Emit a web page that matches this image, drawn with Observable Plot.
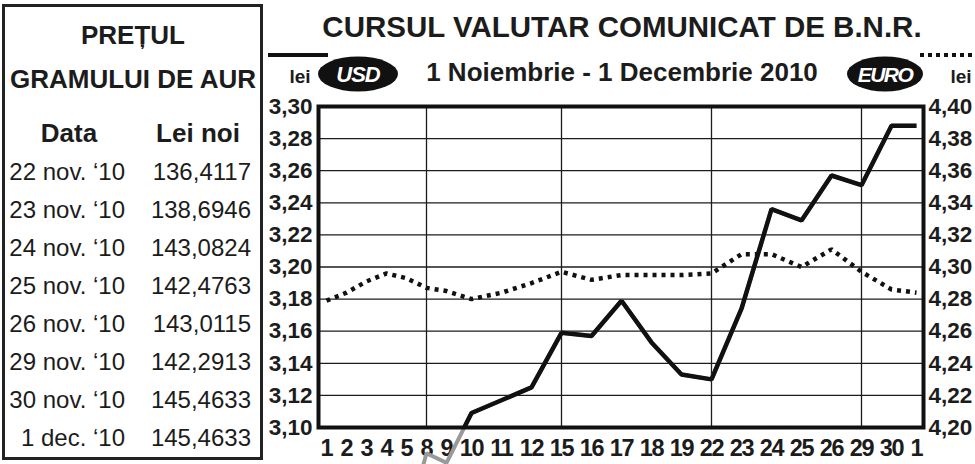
<!DOCTYPE html>
<html>
<head>
<meta charset="utf-8">
<script src="https://cdn.jsdelivr.net/npm/d3@7"></script>
<script src="https://cdn.jsdelivr.net/npm/@observablehq/plot@0.6"></script>
<style>
  html, body { margin: 0; padding: 0; background: white; }
  #chart { width: 975px; height: 464px; }
</style>
</head>
<body>
<div id="chart"></div>
<script>
// ---- data ----
const days = ["1","2","3","4","5","8","9","10","11","12","15","16","17","18","19","22","23","24","25","26","29","30","1"];
// USD (left axis, lei)
const usd = [3.060, 3.052, 3.041, 3.010, 3.038, 3.084, 3.078, 3.109, 3.117, 3.125, 3.159, 3.157, 3.179, 3.153, 3.133, 3.130, 3.174, 3.236, 3.229, 3.257, 3.251, 3.288, 3.288];
// EURO (right axis, lei)
const eur = [4.279, 4.284, 4.291, 4.296, 4.293, 4.287, 4.285, 4.280, 4.284, 4.290, 4.297, 4.292, 4.295, 4.295, 4.295, 4.296, 4.308, 4.308, 4.300, 4.311, 4.297, 4.286, 4.284];
const mondays = ["8","15","22","29"];
const usdTicks = [3.10, 3.12, 3.14, 3.16, 3.18, 3.20, 3.22, 3.24, 3.26, 3.28, 3.30];
const eurTicks = [4.20, 4.22, 4.24, 4.26, 4.28, 4.30, 4.32, 4.34, 4.36, 4.38, 4.40];
const goldDates = ["22 nov. \u201810","23 nov. \u201810","24 nov. \u201810","25 nov. \u201810","26 nov. \u201810","29 nov. \u201810","30 nov. \u201810","1 dec. \u201810"];
const goldPrices = ["136,4117","138,6946","143,0824","142,4763","143,0115","142,2913","145,4633","145,4633"];

// ---- derived ----
const usdDomain = [usdTicks[0], usdTicks[usdTicks.length - 1]];
const eurDomain = [eurTicks[0], eurTicks[eurTicks.length - 1]];
const k = (usdDomain[1] - usdDomain[0]) / (eurDomain[1] - eurDomain[0]);
const eurToUsd = v => usdDomain[0] + (v - eurDomain[0]) * k;
const usdToEur = v => eurDomain[0] + (v - usdDomain[0]) / k;
const fmt = v => v.toFixed(2).replace(".", ",");

// label slots: each label occupies (characters + 1) units, as printed
let acc = 0;
const xPos = days.map(d => { const w = d.length + 1; const c = acc + w / 2; acc += w; return c; });
const labelAt = new Map(xPos.map((p, i) => [p, days[i]]));
const mondayPos = xPos.filter((p, i) => i > 0 && i < days.length - 1 && mondays.includes(days[i]));
const data = days.map((d, i) => ({pos: xPos[i], day: d, usd: usd[i], eur: eur[i]}));

const ink = "#1c1c1c";
const font = "'Liberation Sans', Arial, Helvetica, sans-serif";

const plot = Plot.plot({
  width: 975,
  height: 464,
  marginLeft: 318,
  marginRight: 52,
  marginTop: 106,
  marginBottom: 37,
  style: {fontFamily: font, color: ink, background: "white", overflow: "hidden"},
  x: {domain: [0.2, 60.7], axis: null},
  y: {domain: usdDomain, axis: null},
  marks: [
    Plot.gridY({ticks: usdTicks, stroke: ink, strokeOpacity: 1, strokeWidth: 1.3}),
    Plot.ruleX(mondayPos, {stroke: ink, strokeWidth: 1.3}),
    Plot.axisY({ticks: usdTicks, anchor: "left", label: null, tickSize: 0, tickPadding: 6, tickFormat: fmt, fontSize: 22.5, fontWeight: "bold"}),
    Plot.axisY({ticks: usdTicks, anchor: "right", label: null, tickSize: 0, tickPadding: 5, tickFormat: d => fmt(usdToEur(d)), fontSize: 22.5, fontWeight: "bold"}),
    Plot.axisX({ticks: xPos, anchor: "bottom", label: null, tickSize: 0, tickPadding: 12, tickFormat: d => labelAt.get(d), fontSize: 23.5, fontWeight: "bold"}),
    Plot.lineY(data, {x: "pos", y: "usd", stroke: "#9a9a9a", strokeWidth: 4, strokeLinecap: "butt", strokeLinejoin: "miter"}),
    Plot.lineY(data, {x: "pos", y: "usd", stroke: "#111", strokeWidth: 4.5, strokeLinecap: "butt", strokeLinejoin: "miter", clip: true}),
    Plot.lineY(data, {x: "pos", y: d => eurToUsd(d.eur), stroke: "#111", strokeWidth: 4.5, strokeDasharray: "4,5", strokeLinecap: "butt", strokeLinejoin: "miter", clip: true}),
    Plot.frame({stroke: "#111", strokeWidth: 4})
  ]
});
document.getElementById("chart").append(plot);

// ---- header, legend and gold price table ----
const svg = d3.select(plot);
svg.selectAll("g[aria-label='x-axis tick label'] text").attr("letter-spacing", "-1.2");
const g = svg.append("g").attr("font-family", font).attr("fill", ink);

g.append("text").attr("x", 622).attr("y", 37).attr("text-anchor", "middle")
  .attr("font-size", 29.5).attr("font-weight", "bold").text("CURSUL VALUTAR COMUNICAT DE B.N.R.");
g.append("text").attr("x", 622).attr("y", 81).attr("text-anchor", "middle")
  .attr("font-size", 26).attr("font-weight", "bold").text("1 Noiembrie - 1 Decembrie 2010");

// USD legend
g.append("line").attr("x1", 268).attr("x2", 328).attr("y1", 55).attr("y2", 55).attr("stroke", "#111").attr("stroke-width", 4);
g.append("text").attr("x", 300).attr("y", 83).attr("text-anchor", "middle").attr("font-size", 19).attr("font-weight", "bold").text("lei");
g.append("ellipse").attr("cx", 358).attr("cy", 74).attr("rx", 40).attr("ry", 17.5).attr("fill", "#111");
g.append("text").attr("x", 358).attr("y", 82).attr("text-anchor", "middle").attr("font-size", 22).attr("font-weight", "bold")
  .attr("font-style", "italic").attr("fill", "white").attr("letter-spacing", "-1").text("USD");

// EURO legend
g.append("line").attr("x1", 920).attr("x2", 975).attr("y1", 55).attr("y2", 55).attr("stroke", "#111").attr("stroke-width", 4).attr("stroke-dasharray", "4,4");
g.append("text").attr("x", 961).attr("y", 83).attr("text-anchor", "middle").attr("font-size", 19).attr("font-weight", "bold").text("lei");
g.append("ellipse").attr("cx", 885).attr("cy", 74).attr("rx", 38).attr("ry", 17.5).attr("fill", "#111");
g.append("text").attr("x", 885).attr("y", 82).attr("text-anchor", "middle").attr("font-size", 21).attr("font-weight", "bold")
  .attr("font-style", "italic").attr("fill", "white").attr("letter-spacing", "-1.5").text("EURO");

// Gold table box
g.append("rect").attr("x", 3.5).attr("y", 5.5).attr("width", 258).attr("height", 453)
  .attr("fill", "none").attr("stroke", "#222").attr("stroke-width", 3);
g.append("text").attr("x", 133).attr("y", 44).attr("text-anchor", "middle").attr("font-size", 26).attr("font-weight", "bold").text("PRE\u021aUL");
g.append("text").attr("x", 133).attr("y", 88).attr("text-anchor", "middle").attr("font-size", 26).attr("font-weight", "bold").text("GRAMULUI DE AUR");
g.append("text").attr("x", 69).attr("y", 142).attr("text-anchor", "middle").attr("font-size", 26).attr("font-weight", "bold").text("Data");
g.append("text").attr("x", 198).attr("y", 142).attr("text-anchor", "middle").attr("font-size", 26).attr("font-weight", "bold").text("Lei noi");
goldDates.forEach((d, i) => {
  const y = 180 + i * 38;
  g.append("text").attr("x", 125).attr("y", y).attr("text-anchor", "end").attr("font-size", 24).attr("font-weight", "normal").text(d);
  g.append("text").attr("x", 251).attr("y", y).attr("text-anchor", "end").attr("font-size", 24).attr("font-weight", "normal").text(goldPrices[i]);
});
</script>
</body>
</html>
